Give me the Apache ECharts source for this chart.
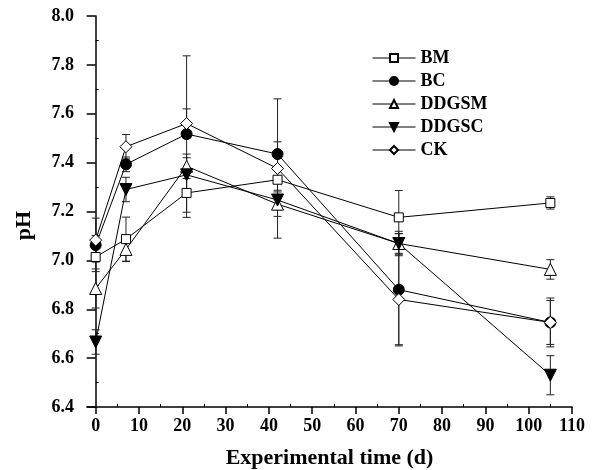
<!DOCTYPE html>
<html>
<head>
<meta charset="UTF-8">
<title>pH</title>
<script src="https://cdn.jsdelivr.net/npm/echarts@6.0.0/dist/echarts.min.js"></script>
<style>
  html, body { margin: 0; padding: 0; background: #fff; }
  #main { width: 596px; height: 470px; }
</style>
</head>
<body>
<div id="main"></div>
<script>
// 取样时间 (d)
var days = [0, 7, 21, 42, 70, 105];
var xTicks = [0, 10, 20, 30, 40, 50, 60, 70, 80, 90, 100, 110];
var xMinorTicks = [5, 15, 25, 35, 45, 55, 65, 75, 85, 95, 105];
var yMinorTicks = [6.5, 6.7, 6.9, 7.1, 7.3, 7.5, 7.7, 7.9];

// 各处理 pH 均值及误差
var BM = [7.014, 7.087, 7.276, 7.33, 7.176, 7.235];
var BC = [7.062, 7.393, 7.517, 7.435, 6.88, 6.746];
var DDGSM = [6.885, 7.045, 7.385, 7.23, 7.069, 6.963];
var DDGSC = [6.666, 7.29, 7.35, 7.247, 7.069, 6.53];
var CK = [7.083, 7.465, 7.56, 7.376, 6.84, 6.746];

var errBM = [0.06, 0.09, 0.10, 0.11, 0.11, 0.025];
var errBC = [0.04, 0.03, 0.32, 0.05, 0.23, 0.10];
var errDDGSM = [0.08, 0.05, 0.05, 0.05, 0.05, 0.04];
var errDDGSC = [0.05, 0.05, 0.07, 0.04, 0.04, 0.08];
var errCK = [0.09, 0.05, 0.06, 0.285, 0.185, 0.09];

var font = 'Liberation Serif';

function pairs(vals) {
    return days.map(function (d, i) { return [d, vals[i]]; });
}

function errData(vals, errs) {
    return days.map(function (d, i) { return [d, vals[i] - errs[i], vals[i] + errs[i]]; });
}

function renderErr(params, api) {
    var lo = api.coord([api.value(0), api.value(1)]);
    var hi = api.coord([api.value(0), api.value(2)]);
    var w = 4;
    var st = { stroke: '#222', lineWidth: 1 };
    return {
        type: 'group',
        children: [
            { type: 'line', shape: { x1: lo[0], y1: lo[1], x2: hi[0], y2: hi[1] }, style: st },
            { type: 'line', shape: { x1: lo[0] - w, y1: lo[1], x2: lo[0] + w, y2: lo[1] }, style: st },
            { type: 'line', shape: { x1: hi[0] - w, y1: hi[1], x2: hi[0] + w, y2: hi[1] }, style: st }
        ]
    };
}

function errSeries(name, vals, errs) {
    return {
        name: name + '_err',
        type: 'custom',
        renderItem: renderErr,
        data: errData(vals, errs),
        encode: { x: 0, y: [1, 2] },
        z: 1,
        silent: true
    };
}

function lineSeries(name, vals, symbol, filled, size, rotate) {
    return {
        name: name,
        type: 'line',
        data: pairs(vals),
        symbol: symbol,
        symbolSize: size,
        symbolRotate: rotate || 0,
        showAllSymbol: true,
        lineStyle: { color: '#000', width: 1 },
        itemStyle: { color: filled ? '#000' : '#fff', borderColor: '#000', borderWidth: 1 },
        z: 3
    };
}

var myChart = echarts.init(document.getElementById('main'));

var option = {
    backgroundColor: '#fff',
    animation: false,
    grid: { left: 87, right: 24, top: 16, bottom: 63, outerBoundsMode: 'none' },
    legend: {
        data: ['BM', 'BC', 'DDGSM', 'DDGSC', 'CK'],
        orient: 'vertical',
        left: 367,
        top: 44,
        itemWidth: 43,
        itemHeight: 10,
        itemGap: 5,
        lineStyle: { width: 1 },
        textStyle: { fontFamily: font, fontWeight: 'bold', fontSize: 18, lineHeight: 18, color: '#000' }
    },
    xAxis: [{
        type: 'value',
        min: -2,
        max: 110,
        name: 'Experimental time (d)',
        nameLocation: 'middle',
        nameGap: 40,
        nameTextStyle: { fontFamily: font, fontWeight: 'bold', fontSize: 22, color: '#000' },
        splitLine: { show: false },
        axisLine: { onZero: false, lineStyle: { color: '#000', width: 1.5 } },
        axisTick: { customValues: xTicks, length: 7, lineStyle: { color: '#000', width: 1.5 } },
        axisLabel: { customValues: xTicks, margin: 10, fontFamily: font, fontWeight: 'bold', fontSize: 18, color: '#000' }
    }, {
        type: 'value',
        position: 'bottom',
        min: -2,
        max: 110,
        splitLine: { show: false },
        axisLine: { show: false },
        axisTick: { customValues: xMinorTicks, inside: true, length: 3, lineStyle: { color: '#000', width: 1 } },
        axisLabel: { show: false }
    }],
    yAxis: [{
        type: 'value',
        min: 6.4,
        max: 8.0,
        interval: 0.2,
        name: 'pH',
        nameLocation: 'middle',
        nameGap: 52,
        nameTextStyle: { fontFamily: font, fontWeight: 'bold', fontSize: 22, color: '#000', padding: [0, 28, 0, 0] },
        splitLine: { show: false },
        axisLine: { show: true, lineStyle: { color: '#000', width: 1.5 } },
        axisTick: { show: true, length: 9, lineStyle: { color: '#000', width: 1.5 } },
        axisLabel: {
            margin: 13,
            fontFamily: font, fontWeight: 'bold', fontSize: 18, color: '#000',
            formatter: function (v) { return v.toFixed(1); }
        }
    }, {
        type: 'value',
        position: 'left',
        min: 6.4,
        max: 8.0,
        splitLine: { show: false },
        axisLine: { show: false },
        axisTick: { show: true, customValues: yMinorTicks, inside: true, length: 3, lineStyle: { color: '#000', width: 1 } },
        axisLabel: { show: false }
    }],
    series: [
        errSeries('BM', BM, errBM),
        errSeries('BC', BC, errBC),
        errSeries('DDGSM', DDGSM, errDDGSM),
        errSeries('DDGSC', DDGSC, errDDGSC),
        errSeries('CK', CK, errCK),
        lineSeries('BM', BM, 'rect', false, 9),
        lineSeries('BC', BC, 'circle', true, 11),
        lineSeries('DDGSM', DDGSM, 'triangle', false, 12),
        lineSeries('DDGSC', DDGSC, 'triangle', true, 12, 180),
        lineSeries('CK', CK, 'diamond', false, 12)
    ]
};

myChart.setOption(option);
</script>
</body>
</html>
